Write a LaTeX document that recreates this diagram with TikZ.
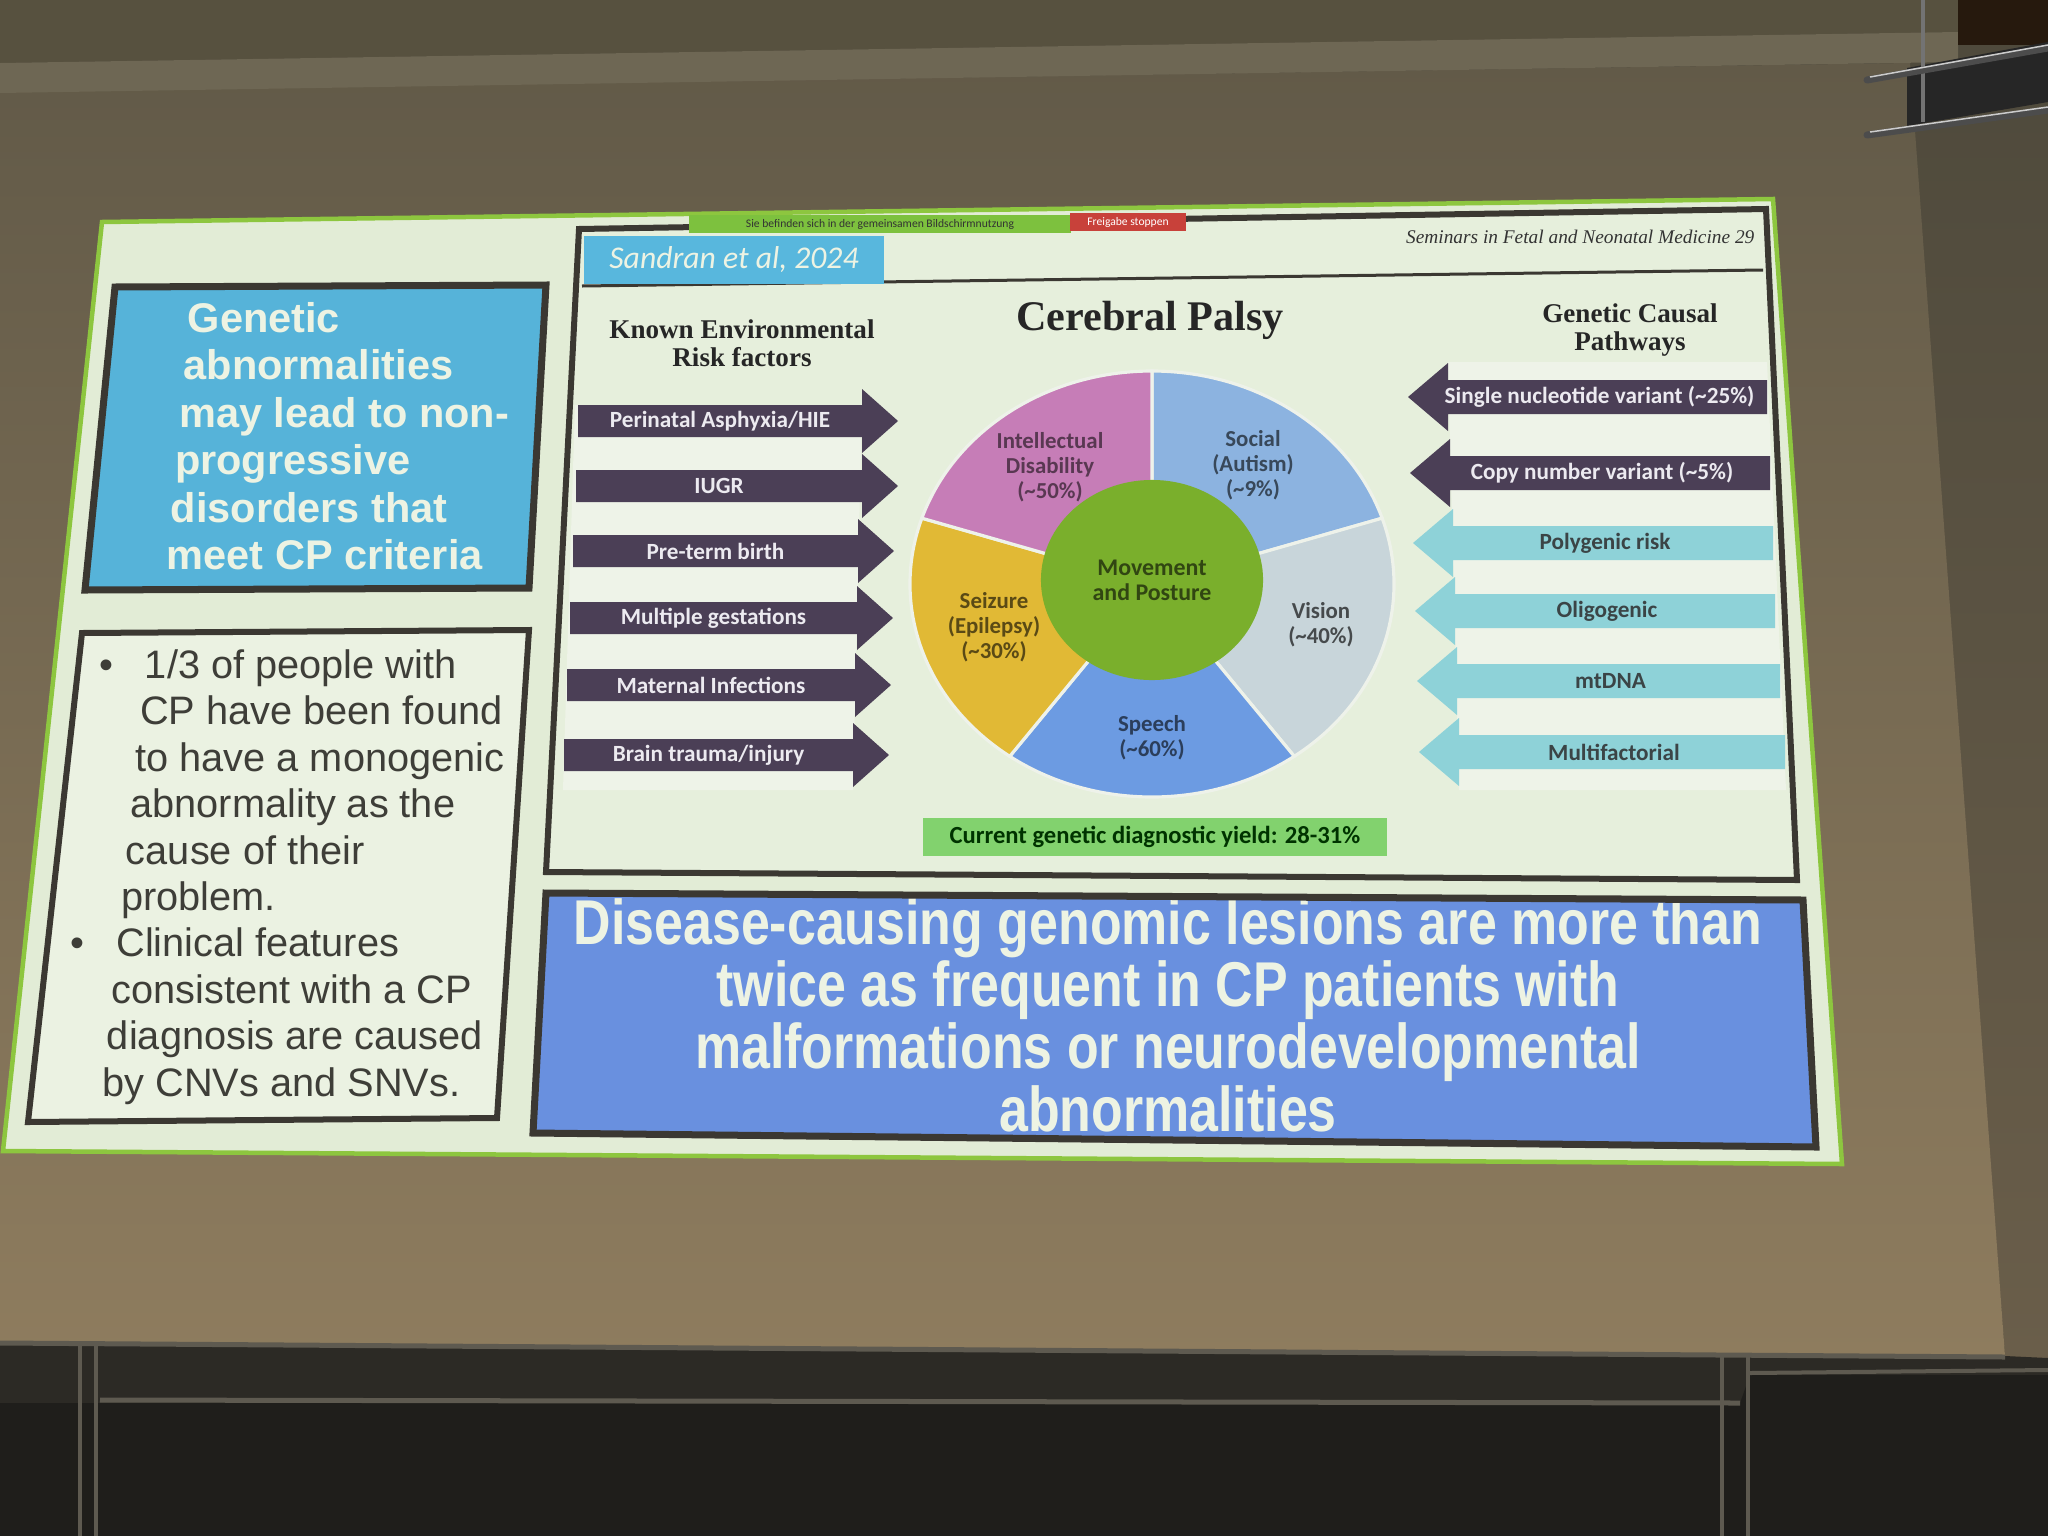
\documentclass[tikz,border=0pt]{standalone}
\usepackage{fontspec}
\setmainfont{Liberation Sans}
\newfontfamily\calfont{Carlito}
\newfontfamily\serfont{Liberation Serif}
\newfontfamily\narrowfont[FakeStretch=0.82]{Liberation Sans}
\usetikzlibrary{shapes.geometric}

\definecolor{wallcol}{HTML}{4F4A3C}
\definecolor{walllow}{HTML}{6A5E4A}
\definecolor{screentop}{HTML}{625A48}
\definecolor{screenlow}{HTML}{8E7C5E}
\definecolor{housing}{HTML}{57513F}
\definecolor{housestrip}{HTML}{6E6754}
\definecolor{boardcol}{HTML}{1F1E1B}
\definecolor{framecol}{HTML}{5E5A50}
\definecolor{slidebg}{HTML}{E2ECD6}
\definecolor{slidegreen}{HTML}{8DC63F}
\definecolor{boxline}{HTML}{3B3832}
\definecolor{claimblue}{HTML}{56B3D9}
\definecolor{bottomblue}{HTML}{6990DF}
\definecolor{lighttext}{HTML}{EDF3E3}
\definecolor{greytext}{HTML}{3E3E38}
\definecolor{arrowdark}{HTML}{4B3F56}
\definecolor{arrowtext}{HTML}{ECEAF0}
\definecolor{arrowcyan}{HTML}{8ED2D8}
\definecolor{cyantext}{HTML}{3B4446}
\definecolor{striplight}{HTML}{EEF3E8}
\definecolor{pieid}{HTML}{C67DB7}
\definecolor{piesoc}{HTML}{8CB3E0}
\definecolor{pievis}{HTML}{C8D5DA}
\definecolor{piesp}{HTML}{6C9BE2}
\definecolor{piesz}{HTML}{E1B935}
\definecolor{piemv}{HTML}{7AAF2C}
\definecolor{pieline}{HTML}{EEF2EA}
\definecolor{yieldgreen}{HTML}{82D26E}
\definecolor{refblue}{HTML}{58B7DD}
\definecolor{sharegreen}{HTML}{7DC13E}
\definecolor{sharered}{HTML}{C8413A}

\newcommand{\envarrow}[5]{%
  \fill[envdark] (#3,#2-16) -- (#4,#2-16) -- (#4,#2-32) -- (#4+36,#2) -- (#4,#2+32) -- (#4,#2+16) -- (#3,#2+16) -- cycle;
  \node[envlabel] (#1) at ({(#3+#4)/2},#2) {#5};}
\newcommand{\genarrow}[6]{%
  \fill[#5] (#4,#2-17) -- (#3,#2-17) -- (#3,#2-34) -- (#3-40,#2) -- (#3,#2+34) -- (#3,#2+17) -- (#4,#2+17) -- cycle;
  \node[#5 label] (#1) at ({(#3+#4)/2-8},#2) {#6};}
\newcommand{\factline}[3]{\hspace*{#1pt}\makebox[13pt][l]{#2}#3}

\begin{document}
\begin{tikzpicture}[x=0.01cm, y=-0.01cm,
  envdark/.style={fill=arrowdark},
  envlabel/.style={text=arrowtext, inner sep=0pt, font=\calfont\bfseries\fontsize{6.6}{7.5}\selectfont},
  gendark/.style={fill=arrowdark},
  gendark label/.style={text=arrowtext, inner sep=0pt, font=\calfont\bfseries\fontsize{6.6}{7.5}\selectfont},
  gencyan/.style={fill=arrowcyan},
  gencyan label/.style={text=cyantext, inner sep=0pt, font=\calfont\bfseries\fontsize{6.6}{7.5}\selectfont},
  piewedge/.style={draw=pieline, line width=0.9pt},
  pielabel/.style={align=center, inner sep=0pt, font=\calfont\bfseries\fontsize{6.5}{7.1}\selectfont},
  sethead/.style={align=center, inner sep=0pt, text=black!85, font=\serfont\bfseries\fontsize{7.7}{8.1}\selectfont},
  rod/.style={line width=0.07cm, draw=black!70, line cap=round}]
\useasboundingbox (0,0) rectangle (2048,1536);

\fill[wallcol] (0,0) rectangle (2048,1536);
\shade[top color=wallcol, bottom color=walllow] (1905,60) -- (2048,60) -- (2048,1360) -- (2005,1356) -- cycle;
\shade[top color=screentop, bottom color=screenlow] (0,92) -- (1910,63) -- (2005,1356) -- (0,1342) -- cycle;
\fill[housing] (0,0) -- (1958,0) -- (1958,32) -- (0,63) -- cycle;
\fill[housestrip] (0,63) -- (1958,32) -- (1958,62) -- (0,93) -- cycle;
\fill[black!80!brown] (1958,0) rectangle (2048,45);
\fill[black!85] (1907,68) -- (2048,42) -- (2048,102) -- (1907,126) -- cycle;
\draw[line width=0.04cm, black!55] (1923,0) -- (1923,122);
\draw[rod] (1867,80) -- (2048,48);
\draw[rod] (1867,135) -- (2048,110);
\draw[line width=0.015cm, white!60!gray] (1870,77) -- (2048,45);
\draw[line width=0.015cm, white!60!gray] (1870,132) -- (2048,107);

\fill[boardcol!80!framecol] (0,1342) -- (2005,1356) -- (2048,1358) -- (2048,1536) -- (0,1536) -- cycle;
\fill[boardcol] (0,1403) -- (1740,1403) -- (1750,1375) -- (2048,1375) -- (2048,1536) -- (0,1536) -- cycle;
\draw[line width=0.05cm, framecol] (0,1343) -- (2005,1357);
\draw[line width=0.05cm, framecol] (100,1400) -- (1740,1403);
\draw[line width=0.04cm, framecol] (1750,1373) -- (2048,1370);
\draw[line width=0.04cm, framecol] (80,1345) -- (80,1536);
\draw[line width=0.04cm, framecol] (96,1345) -- (96,1536);
\draw[line width=0.04cm, framecol] (1722,1356) -- (1722,1536);
\draw[line width=0.04cm, framecol] (1748,1357) -- (1748,1536);

\filldraw[fill=slidebg, draw=slidegreen, line width=0.045cm] (102,222) -- (1773,199) -- (1842,1164) -- (3,1151) -- cycle;

\filldraw[fill=claimblue, draw=boxline, line width=0.07cm] (115,287) -- (546,285) -- (529,588) -- (85,590) -- cycle;
\node[anchor=west, align=left, inner sep=0pt, text=lighttext, font=\bfseries\fontsize{11.8}{13.5}\selectfont] (claim) at (166,436) {\hspace*{6pt}Genetic\\\hspace*{4.8pt}abnormalities\\\hspace*{3.6pt}may lead to non-\\\hspace*{2.4pt}progressive\\\hspace*{1.2pt}disorders that\\meet CP criteria};

\filldraw[fill=slidebg!70!white, draw=boxline, line width=0.06cm] (82,633) -- (529,630) -- (497,1118) -- (28,1122) -- cycle;
\node[anchor=west, align=left, inner sep=0pt, text=greytext, font=\fontsize{11.3}{13.2}\selectfont] (facts) at (56,877) {\factline{12.1}{\textbullet}{1/3 of people with}\\
\factline{10.7}{}{CP have been found}\\
\factline{9.4}{}{to have a monogenic}\\
\factline{8.0}{}{abnormality as the}\\
\factline{6.7}{}{cause of their}\\
\factline{5.4}{}{problem.}\\
\factline{4.0}{\textbullet}{Clinical features}\\
\factline{2.7}{}{consistent with a CP}\\
\factline{1.3}{}{diagnosis are caused}\\
\factline{0}{}{by CNVs and SNVs.}};

\filldraw[fill=slidebg!85!white, draw=boxline, line width=0.06cm] (579,229) -- (1766,209) -- (1797,880) -- (546,872) -- cycle;
\draw[line width=0.03cm, boxline] (582,286) -- (1763,270);
\node[fill=refblue, minimum width=3.0cm, minimum height=0.48cm, inner sep=0pt, text=lighttext, font=\calfont\itshape\fontsize{9}{10}\selectfont] (ref) at (734,260) {Sandran et al, 2024};
\node[anchor=east, inner sep=0pt, text=black!80, font=\serfont\itshape\fontsize{5.5}{6}\selectfont] (journal) at (1755,237) {Seminars in Fetal and Neonatal Medicine 29};
\node[fill=sharegreen, minimum width=3.81cm, minimum height=0.18cm, inner sep=0pt, text=black!80, font=\calfont\fontsize{3.3}{4}\selectfont] (share) at (880,224) {Sie befinden sich in der gemeinsamen Bildschirmnutzung};
\node[fill=sharered, minimum width=1.15cm, minimum height=0.18cm, inner sep=0pt, text=white, font=\calfont\fontsize{3.3}{4}\selectfont] (stop) at (1128,222) {Freigabe stoppen};

\node[sethead] (envhead) at (742,343) {Known Environmental\\Risk factors};
\node[inner sep=0pt, text=black!85, font=\serfont\bfseries\fontsize{12}{14}\selectfont] (title) at (1150,320) {Cerebral Palsy};
\node[sethead] (genhead) at (1630,330) {Genetic Causal\\Pathways};

\fill[striplight] (575,405) -- (862,405) -- (853,790) -- (563,790) -- cycle;
\fill[striplight] (1448,362) -- (1767,362) -- (1786,790) -- (1459,790) -- cycle;

\envarrow{asphyxia}{421}{578}{862}{Perinatal Asphyxia/HIE}
\envarrow{iugr}{486}{576}{862}{IUGR}
\envarrow{preterm}{551}{573}{858}{Pre-term birth}
\envarrow{multiple}{618}{570}{857}{Multiple gestations}
\envarrow{infect}{685}{567}{855}{Maternal Infections}
\envarrow{trauma}{755}{564}{853}{Brain trauma/injury}

\genarrow{snv}{397}{1448}{1767}{gendark}{Single nucleotide variant (\textasciitilde 25\%)}
\genarrow{cnv}{473}{1450}{1770}{gendark}{Copy number variant (\textasciitilde 5\%)}
\genarrow{polygenic}{543}{1453}{1773}{gencyan}{Polygenic risk}
\genarrow{oligogenic}{611}{1455}{1775}{gencyan}{Oligogenic}
\genarrow{mtdna}{681}{1457}{1780}{gencyan}{mtDNA}
\genarrow{multifact}{752}{1459}{1785}{gencyan}{Multifactorial}

\begin{scope}[shift={(1152,584)}, y=0.01cm]
\filldraw[piewedge, fill=piesoc] (0,0) -- (90:242 and 213) arc[start angle=90, end angle=18, x radius=242, y radius=213] -- cycle;
\filldraw[piewedge, fill=pievis] (0,0) -- (18:242 and 213) arc[start angle=18, end angle=-54, x radius=242, y radius=213] -- cycle;
\filldraw[piewedge, fill=piesp] (0,0) -- (-54:242 and 213) arc[start angle=-54, end angle=-126, x radius=242, y radius=213] -- cycle;
\filldraw[piewedge, fill=piesz] (0,0) -- (-126:242 and 213) arc[start angle=-126, end angle=-198, x radius=242, y radius=213] -- cycle;
\filldraw[piewedge, fill=pieid] (0,0) -- (162:242 and 213) arc[start angle=162, end angle=90, x radius=242, y radius=213] -- cycle;
\end{scope}
\node[ellipse, fill=piemv, minimum width=2.22cm, minimum height=2.0cm, inner sep=0pt, align=center, text=piemv!40!black, font=\calfont\bfseries\fontsize{6.8}{7.2}\selectfont] (motor) at (1152,580) {Movement\\and Posture};
\node[pielabel, text=pieid!45!black] (intel) at (1050,467) {Intellectual\\Disability\\(\textasciitilde 50\%)};
\node[pielabel, text=piesoc!40!black] (social) at (1253,465) {Social\\(Autism)\\(\textasciitilde 9\%)};
\node[pielabel, text=pievis!35!black] (vision) at (1321,625) {Vision\\(\textasciitilde 40\%)};
\node[pielabel, text=piesp!40!black] (speech) at (1152,738) {Speech\\(\textasciitilde 60\%)};
\node[pielabel, text=piesz!40!black] (seizure) at (994,627) {Seizure\\(Epilepsy)\\(\textasciitilde 30\%)};

\node[fill=yieldgreen, minimum width=4.64cm, minimum height=0.38cm, inner sep=0pt, text=black!80!green, font=\calfont\bfseries\fontsize{7}{8}\selectfont] (yield) at (1155,837) {Current genetic diagnostic yield: 28-31\%};

\fill[bottomblue] (546,893) -- (1803,900) -- (1816,1147) -- (533,1133) -- cycle;
\node[align=center, inner sep=0pt, text=lighttext, font=\narrowfont\bfseries\fontsize{18}{17.7}\selectfont] (lesions) at (1168,1015) {Disease-causing genomic lesions are more than\\twice as frequent in CP patients with\\malformations or neurodevelopmental\\abnormalities};
\draw[boxline, line width=0.07cm] (546,893) -- (1803,900) -- (1816,1147) -- (533,1133) -- cycle;
\end{tikzpicture}
\end{document}
